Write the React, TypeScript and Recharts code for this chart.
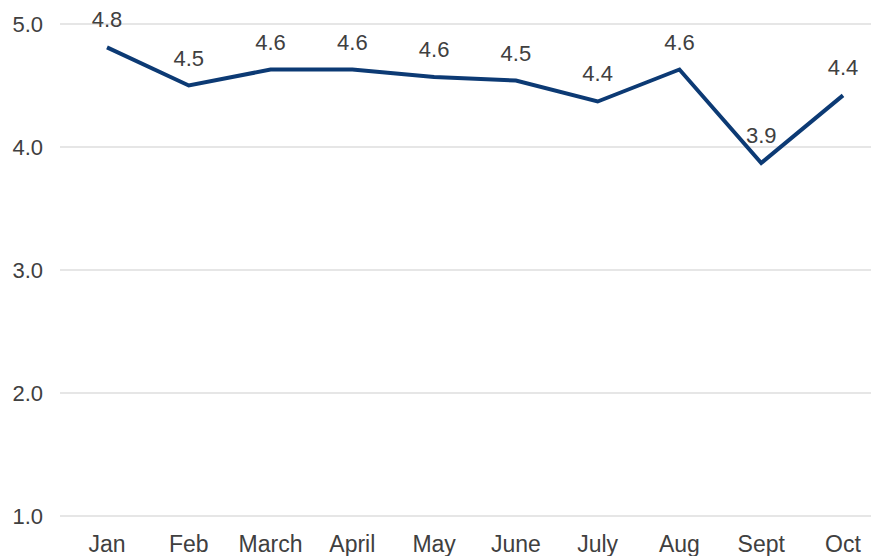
import { LineChart, Line, XAxis, YAxis, CartesianGrid, LabelList } from "recharts";

// Values (rounded labels shown to one decimal).
const MONTHS = ["Jan", "Feb", "March", "April", "May", "June", "July", "Aug", "Sept", "Oct"];
const SCORES = [4.81, 4.5, 4.63, 4.63, 4.57, 4.54, 4.37, 4.63, 3.87, 4.42];
const Y_TICKS = [1, 2, 3, 4, 5];

const LINE = "#0c3a74";
const GRID = "#e6e6e6";
const TEXT = "#404040";
const FONT = "'Liberation Sans', Arial, sans-serif";

const data = MONTHS.map((m, i) => ({ month: m, score: SCORES[i] }));

export default function App() {
  return (
    <div style={{ position: "absolute", left: 0, top: 0, width: 871, height: 556, background: "#fff" }}>
      <LineChart
        width={871}
        height={556}
        data={data}
        margin={{ top: 24, right: 0, left: 0, bottom: 0 }}
      >
        <CartesianGrid stroke={GRID} strokeWidth={2} vertical={false} />
        <XAxis
          dataKey="month"
          axisLine={false}
          tickLine={false}
          interval={0}
          height={40}
          tickSize={0}
          tickMargin={20}
          padding={{ left: 47, right: 28 }}
          tick={{ fill: TEXT, fontSize: 23, fontFamily: "'Liberation Sans Narrow', 'Arial Narrow', sans-serif" }}
        />
        <YAxis
          domain={[1, 5]}
          ticks={Y_TICKS}
          axisLine={false}
          tickLine={false}
          width={60}
          tickSize={0}
          tickMargin={17}
          tickFormatter={(v: number) => v.toFixed(1)}
          tick={{ fill: TEXT, fontSize: 22, fontFamily: FONT }}
        />
        <Line
          type="linear"
          dataKey="score"
          stroke={LINE}
          strokeWidth={4}
          dot={false}
          isAnimationActive={false}
        >
          <LabelList
            dataKey="score"
            position="top"
            offset={20}
            formatter={(v: number) => Number(v).toFixed(1)}
            style={{ fill: TEXT, fontSize: 22, fontFamily: FONT }}
          />
        </Line>
      </LineChart>
    </div>
  );
}
